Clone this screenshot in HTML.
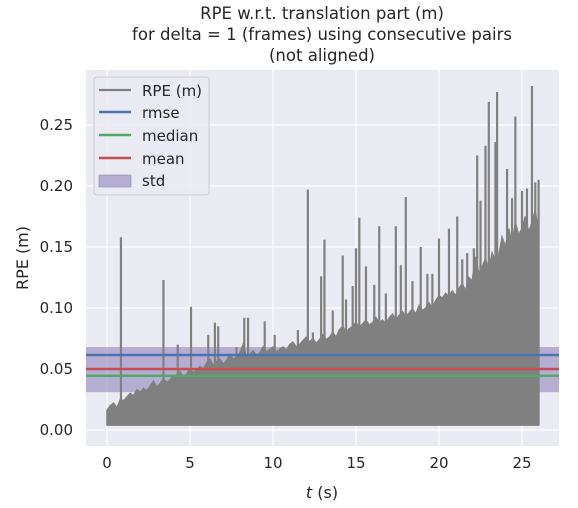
<!DOCTYPE html>
<html><head><meta charset="utf-8"><style>
body{margin:0;background:#fff;}
svg{display:block;font-family:"DejaVu Sans","Liberation Sans",sans-serif;}
</style></head><body>
<svg id="chart" width="578" height="508">
<g font-size="16.5" fill="#262626" text-anchor="middle">
<text x="322" y="19">RPE w.r.t. translation part (m)</text>
<text x="322" y="40">for delta = 1 (frames) using consecutive pairs</text>
<text x="322" y="61">(not aligned)</text>
</g>
<rect x="86" y="70" width="473" height="376" fill="#eaeaf2"/>
<g id="grid"></g>
<g id="band"></g>
<g id="series"></g>
<g id="stats"></g>
<g id="ticks" font-size="15" fill="#262626"></g>
<text x="322" y="498" font-size="16" text-anchor="middle" fill="#262626"><tspan font-style="italic">t</tspan> (s)</text>
<text transform="translate(28,258) rotate(-90)" font-size="16" text-anchor="middle" fill="#262626">RPE (m)</text>
<g>
<rect x="94" y="77" width="115" height="118" rx="3" fill="#eaeaf2" fill-opacity="0.85" stroke="#cccccc"/>
<g><line x1="99" y1="90" x2="131" y2="90" stroke="#808080" stroke-width="2.2"/><text x="142" y="96" font-size="15" fill="#262626">RPE (m)</text></g>
<g><line x1="99" y1="112" x2="131" y2="112" stroke="#4c72b0" stroke-width="2.5"/><text x="142" y="118" font-size="15" fill="#262626">rmse</text></g>
<g><line x1="99" y1="135" x2="131" y2="135" stroke="#55a868" stroke-width="2.5"/><text x="142" y="141" font-size="15" fill="#262626">median</text></g>
<g><line x1="99" y1="158" x2="131" y2="158" stroke="#c44e52" stroke-width="2.5"/><text x="142" y="164" font-size="15" fill="#262626">mean</text></g>
<g><rect x="99" y="175" width="32" height="12" fill="#8172b2" fill-opacity="0.5" stroke="#8172b2" stroke-opacity="0.5"/><text x="142" y="186" font-size="15" fill="#262626">std</text></g>
</g>
</svg>
<script>
const xTicks = [0, 5, 10, 15, 20, 25];
const yTicks = [0, 0.05, 0.10, 0.15, 0.20, 0.25];
const yTickLabels = ["0.00", "0.05", "0.10", "0.15", "0.20", "0.25"];
const sampleStep = 0.2;
const baseValue = 0.004;
const envelope = [
.016,.02,.022,.018,.025,.024,.027,.03,.028,.033,.031,
.034,.032,.036,.04,.035,.038,.042,.039,.041,.045,
.044,.048,.043,.046,.05,.047,.049,.052,.05,.055,
.058,.053,.056,.058,.054,.057,.062,.058,.06,.063,
.07,.06,.062,.065,.061,.063,.068,.064,.066,.068,
.064,.066,.068,.065,.07,.072,.068,.07,.073,.076,
.072,.075,.071,.074,.078,.074,.076,.08,.076,.082,
.085,.08,.083,.085,.088,.084,.087,.09,.086,.088,
.092,.088,.09,.087,.092,.095,.09,.094,.097,.093,
.096,.099,.095,.102,.098,.1,.104,.1,.106,.11,
.108,.112,.109,.114,.11,.116,.12,.114,.125,.122,
.142,.128,.134,.14,.132,.145,.138,.143,.158,.15,
.165,.152,.17,.16,.165,.175,.162,.17,.18,.16];
const spikeTimes = [0.84,3.4,4.26,5.06,6.1,6.5,6.7,7.8,8.27,8.5,9.5,10.1,11.5,12.1,12.4,12.9,13.1,13.6,14.2,14.4,14.8,15.0,15.2,15.6,16.1,16.4,16.8,17.4,17.7,18.0,18.4,18.9,19.3,19.6,20.0,20.6,21.1,21.4,21.7,22.1,22.3,22.5,22.8,23.0,23.4,23.5,24.1,24.4,24.6,25.0,25.3,25.6,25.8,26.0];
const spikeValues = [.158,.123,.07,.101,.078,.088,.085,.068,.092,.092,.089,.078,.082,.197,.08,.126,.156,.098,.143,.107,.118,.149,.174,.134,.119,.167,.112,.167,.135,.191,.122,.15,.128,.128,.157,.165,.175,.14,.145,.149,.225,.188,.233,.269,.236,.277,.214,.19,.257,.196,.198,.282,.203,.205];
const rmse = 0.0615, mean = 0.050, median = 0.0445, stdLow = 0.031, stdHigh = 0.068;

const NS = "http://www.w3.org/2000/svg";
const X0 = 86, X1 = 559, Y0 = 70, Y1 = 446;
const xs = t => 107 + t * 16.6;
const ys = v => 430 - v * 1220;
function mk(tag, attrs, parent){const e=document.createElementNS(NS,tag);for(const k in attrs)e.setAttribute(k,attrs[k]);parent.appendChild(e);return e;}
const grid=document.getElementById('grid'), ticks=document.getElementById('ticks');
xTicks.forEach(t=>{
  const l=mk('line',{x1:xs(t),x2:xs(t),y1:Y0,y2:Y1,stroke:'#fff','stroke-width':1.2},grid);
  
  
  const tx=mk('text',{x:xs(t),y:Y1+22,'text-anchor':'middle'},ticks);tx.textContent=String(t);
  
  
});
yTicks.forEach((v,i)=>{
  const l=mk('line',{x1:X0,x2:X1,y1:ys(v),y2:ys(v),stroke:'#fff','stroke-width':1.2},grid);
  
  
  const tx=mk('text',{x:X0-13,y:ys(v)+5,'text-anchor':'end'},ticks);tx.textContent=yTickLabels[i];
  
  
});
const bandG=document.getElementById('band');
const band=mk('rect',{x:X0,y:ys(stdHigh),width:X1-X0,height:ys(stdLow)-ys(stdHigh),fill:'#8172b2','fill-opacity':0.5},bandG);


const series=document.getElementById('series');
let d='';
envelope.forEach((v,i)=>{const t=i*sampleStep;d+=(i?'L':'M')+xs(t)+','+ys(v)+' ';});
for(let i=envelope.length-1;i>=0;i--){d+='L'+xs(i*sampleStep)+','+ys(baseValue)+' ';}
const area=mk('path',{d:d+'Z',fill:'#808080',stroke:'#808080','stroke-width':1.5},series);


spikeTimes.forEach((t,i)=>{
  const s=mk('line',{x1:xs(t),x2:xs(t),y1:ys(baseValue),y2:ys(spikeValues[i]),stroke:'#808080','stroke-width':2.2},series);
  
  
});
const stats=document.getElementById('stats');
[[rmse,'#4c72b0','rmse-line'],[median,'#55a868','median-line'],[mean,'#c44e52','mean-line']].forEach(s=>{
  const l=mk('line',{x1:X0,x2:X1,y1:ys(s[0]),y2:ys(s[0]),stroke:s[1],'stroke-width':2.5},stats);
  
  
});
</script>
</body></html>
